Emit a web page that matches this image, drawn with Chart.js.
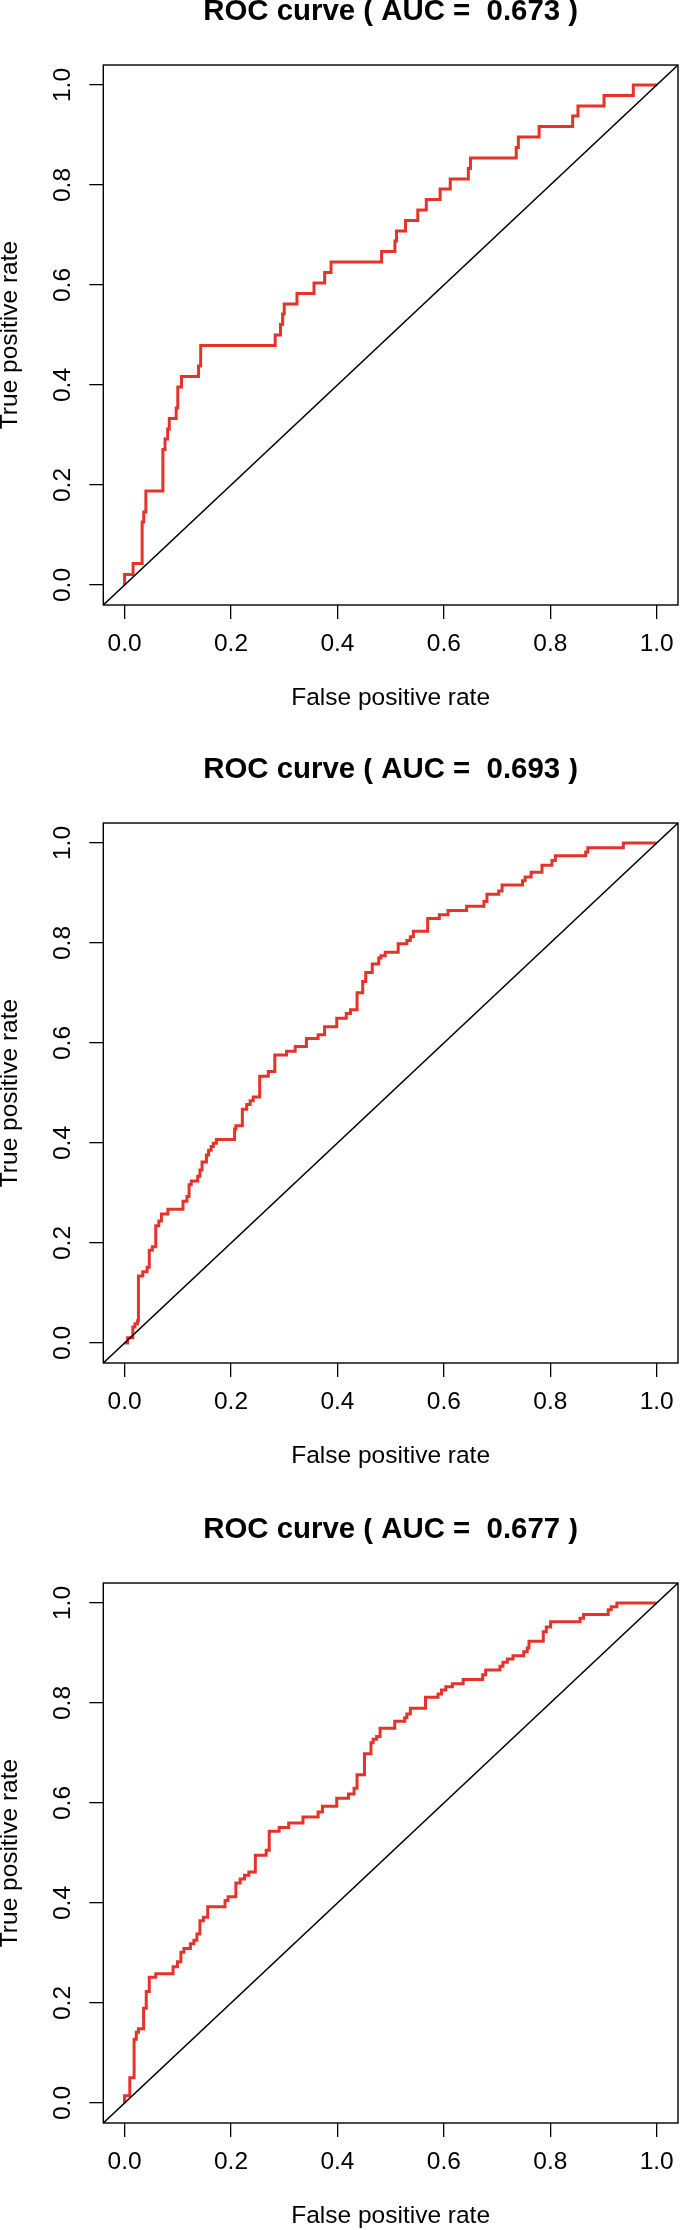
<!DOCTYPE html>
<html>
<head>
<meta charset="utf-8">
<script src="https://cdn.jsdelivr.net/npm/chart.js@4.4.1/dist/chart.umd.min.js"></script>
<style>
  body { margin: 0; background: #fff; }
  .panel { position: absolute; left: 0; width: 685px; height: 712px; }
</style>
</head>
<body>
<div class="panel" style="top:0px"><canvas id="roc1" width="685" height="712"></canvas></div>
<div class="panel" style="top:758px"><canvas id="roc2" width="685" height="712"></canvas></div>
<div class="panel" style="top:1518px"><canvas id="roc3" width="685" height="712"></canvas></div>
<script>
// tick labels shared by both axes
const axisTicks = [0, 0.2, 0.4, 0.6, 0.8, 1.0];
const axisLimits = [-0.04, 1.04];

// ROC points (fpr where the curve rises, new tpr)
const fpr1 = [0, 0, 0.016, 0.033, 0.036, 0.040, 0.072, 0.076, 0.081, 0.084, 0.097, 0.100, 0.107, 0.139, 0.143,
  0.283, 0.293, 0.297, 0.300, 0.324, 0.356, 0.376, 0.388, 0.483, 0.508, 0.511, 0.528, 0.551, 0.567, 0.593,
  0.612, 0.646, 0.650, 0.736, 0.740, 0.779, 0.842, 0.852, 0.901, 0.956, 1];
const tpr1 = [0, 0.021, 0.043, 0.126, 0.146, 0.188, 0.271, 0.292, 0.312, 0.333, 0.354, 0.396, 0.417, 0.438, 0.479,
  0.5, 0.521, 0.542, 0.562, 0.583, 0.604, 0.625, 0.646, 0.667, 0.688, 0.708, 0.729, 0.75, 0.771, 0.792,
  0.812, 0.833, 0.854, 0.875, 0.896, 0.917, 0.938, 0.958, 0.979, 1.0, 1];

const fpr2 = [0, 0.0057, 0.0155, 0.0195, 0.0244, 0.026, 0.0342, 0.0423, 0.0464, 0.0521, 0.0586, 0.0643, 0.0692,
  0.0814, 0.1098, 0.1172, 0.1212, 0.1253, 0.1375, 0.1416, 0.1456, 0.1538, 0.1579, 0.1627, 0.1668, 0.1725,
  0.2067, 0.2091, 0.2213, 0.2295, 0.236, 0.2417, 0.2539, 0.2701, 0.2823, 0.3043, 0.3206, 0.3417, 0.3637,
  0.3759, 0.3987, 0.4166, 0.4247, 0.4369, 0.4475, 0.4532, 0.4654, 0.4776, 0.4817, 0.4898, 0.5142, 0.5305,
  0.537, 0.5427, 0.5696, 0.5915, 0.6078, 0.6428, 0.6753, 0.681, 0.703, 0.7095, 0.7478, 0.7526, 0.764,
  0.7844, 0.8031, 0.8096, 0.8666, 0.8706, 0.9373, 1];
const tpr2 = [0, 0.0104, 0.032, 0.0386, 0.0443, 0.1338, 0.1423, 0.1517, 0.1857, 0.1923, 0.2347, 0.2441, 0.2582,
  0.2677, 0.2837, 0.2931, 0.3167, 0.3242, 0.3336, 0.3459, 0.3619, 0.3761, 0.3855, 0.393, 0.3996, 0.4072,
  0.4279, 0.4345, 0.4675, 0.4769, 0.4844, 0.492, 0.5335, 0.5429, 0.5759, 0.5834, 0.5928, 0.6089, 0.6164,
  0.6324, 0.6494, 0.6588, 0.6664, 0.7003, 0.7229, 0.7408, 0.7578, 0.77, 0.7747, 0.7813, 0.7983, 0.8049,
  0.8124, 0.8237, 0.8492, 0.8567, 0.8652, 0.8737, 0.8831, 0.8973, 0.9039, 0.9161, 0.9246, 0.9321, 0.9416,
  0.9557, 0.9651, 0.9745, 0.982, 0.9906, 1.0, 1];

const fpr3 = [0, 0, 0.0098, 0.0179, 0.022, 0.026, 0.0358, 0.0407, 0.0464, 0.0586, 0.0911, 0.0993, 0.1058, 0.1115,
  0.1237, 0.1302, 0.1359, 0.1416, 0.1481, 0.1562, 0.1888, 0.1945, 0.2091, 0.2173, 0.2254, 0.2335, 0.2457,
  0.2661, 0.2718, 0.2905, 0.3084, 0.3352, 0.3637, 0.3718, 0.3987, 0.4207, 0.4312, 0.4369, 0.4508, 0.463,
  0.467, 0.4736, 0.4801, 0.5077, 0.5264, 0.5305, 0.537, 0.5655, 0.5891, 0.5956, 0.6037, 0.616, 0.6363,
  0.6729, 0.6786, 0.7054, 0.7111, 0.7193, 0.7299, 0.7502, 0.7567, 0.76, 0.7868, 0.7925, 0.8006, 0.856,
  0.8625, 0.9089, 0.9146, 0.9251, 1];
const tpr3 = [0, 0.0144, 0.0507, 0.1273, 0.1416, 0.1483, 0.1895, 0.223, 0.2517, 0.2584, 0.2727, 0.2823, 0.3014,
  0.3091, 0.3187, 0.3254, 0.3378, 0.3646, 0.3713, 0.3923, 0.4048, 0.4124, 0.4402, 0.4478, 0.4555, 0.4622,
  0.4957, 0.5053, 0.5435, 0.5512, 0.5598, 0.5722, 0.5818, 0.5933, 0.6096, 0.6182, 0.6297, 0.6565, 0.6986,
  0.7206, 0.7273, 0.733, 0.7493, 0.7636, 0.7703, 0.778, 0.7895, 0.8115, 0.8182, 0.8258, 0.8325, 0.8383,
  0.8469, 0.8565, 0.866, 0.8737, 0.8813, 0.888, 0.8947, 0.9024, 0.91, 0.9234, 0.9426, 0.9522, 0.9627,
  0.9694, 0.977, 0.9866, 0.9923, 1.0, 1];

const aucValues = ['0.673', '0.693', '0.677'];
const xTitle = 'False positive rate';
const yTitle = 'True positive rate';

const FONT = '"Liberation Sans", Arial, Helvetica, sans-serif';

// R-style frame around the plot region
const boxPlugin = {
  id: 'rbox',
  afterDraw(chart) {
    const a = chart.chartArea, ctx = chart.ctx;
    ctx.save();
    ctx.strokeStyle = '#000';
    ctx.lineWidth = 1.4;
    ctx.strokeRect(a.left, a.top, a.right - a.left, a.bottom - a.top);
    ctx.restore();
  }
};

function axisOpts(isX) {
  return {
    type: 'linear',
    bounds: 'data',
    min: axisLimits[0],
    max: axisLimits[1],
    afterBuildTicks: s => { s.ticks = axisTicks.map(v => ({ value: v })); },
    afterFit: s => { if (isX) s.height = 107; else s.width = 103.3; },
    grid: { drawOnChartArea: false, drawTicks: true, tickLength: 14, color: '#000', lineWidth: 1.3 },
    border: { display: false },
    ticks: isX
      ? { autoSkip: false, maxRotation: 0, minRotation: 0, padding: 11, color: '#000',
          font: { family: FONT, size: 24.5 }, callback: v => v.toFixed(1) }
      : { autoSkip: false, minRotation: 90, maxRotation: 90, crossAlign: 'center', padding: 9.3, color: '#000',
          font: { family: FONT, size: 24.5 }, callback: v => v.toFixed(1) },
    title: isX
      ? { display: true, text: xTitle, color: '#000', font: { family: FONT, size: 24.5, lineHeight: 1 },
          padding: { top: 0, bottom: 1.75 } }
      : { display: true, text: yTitle, color: '#000', font: { family: FONT, size: 24.5, lineHeight: 0.8 },
          padding: { top: 0, bottom: 0 } }
  };
}

function makeRoc(id, fpr, tpr, auc) {
  new Chart(document.getElementById(id), {
    type: 'scatter',
    data: {
      datasets: [
        {
          data: axisLimits.map(v => ({ x: v, y: v })),
          showLine: true, borderColor: '#000', borderWidth: 1.5, pointRadius: 0
        },
        {
          data: fpr.map((x, i) => ({ x: x, y: tpr[i] })),
          showLine: true, stepped: 'before', borderColor: '#e6332a', borderWidth: 3,
          pointRadius: 0, borderJoinStyle: 'miter', borderCapStyle: 'butt'
        }
      ]
    },
    options: {
      responsive: false,
      animation: false,
      devicePixelRatio: 1,
      layout: { padding: { left: 0, right: 2, top: 0, bottom: 0 } },
      plugins: {
        legend: { display: false },
        tooltip: { enabled: false },
        title: {
          display: true,
          fullSize: false,
          text: 'ROC curve ( AUC =  ' + auc + ' )',
          color: '#000',
          font: { family: FONT, size: 29.4, weight: 'bold', lineHeight: 0.8 },
          padding: { top: 0.4, bottom: 41.1 }
        }
      },
      scales: { x: axisOpts(true), y: axisOpts(false) }
    },
    plugins: [boxPlugin]
  });
}

makeRoc('roc1', fpr1, tpr1, aucValues[0]);
makeRoc('roc2', fpr2, tpr2, aucValues[1]);
makeRoc('roc3', fpr3, tpr3, aucValues[2]);
</script>
</body>
</html>
